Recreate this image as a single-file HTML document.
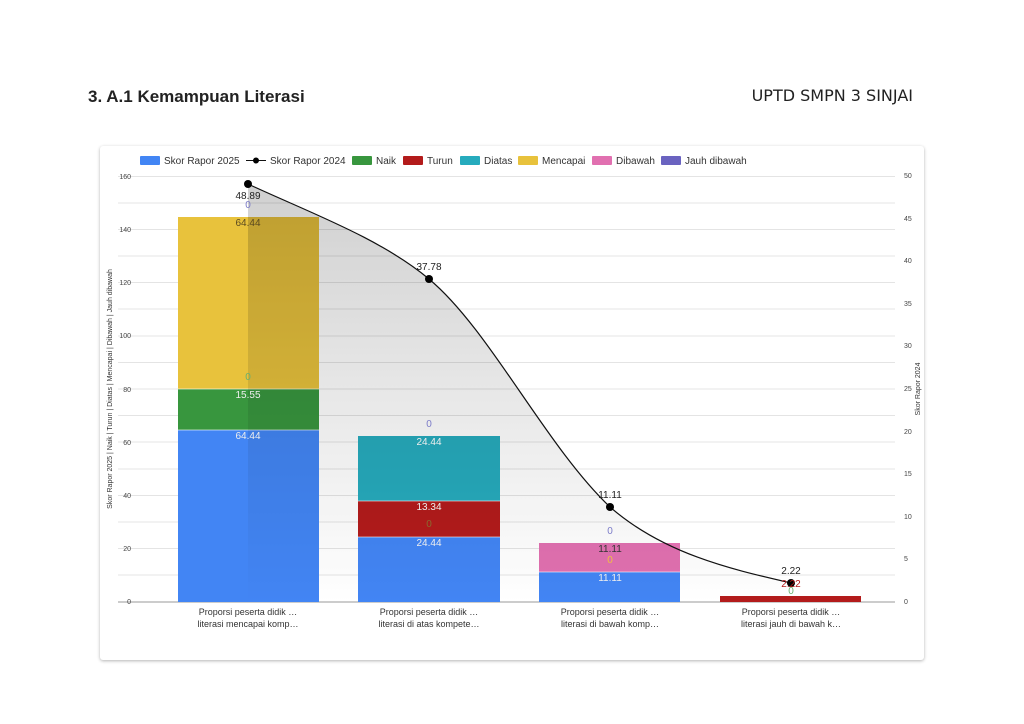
<!DOCTYPE html>
<html><head><meta charset="utf-8"><style>
body{margin:0;width:1024px;height:724px;background:#fff;font-family:"Liberation Sans",sans-serif;overflow:hidden;position:relative}
.t1{position:absolute;left:88px;top:87px;font-size:17px;font-weight:bold;color:#222;font-family:"Liberation Sans",sans-serif}
.t2{position:absolute;right:111px;top:86px;font-size:16px;color:#222;font-family:"DejaVu Sans",sans-serif}
.card{position:absolute;left:100px;top:146px;width:824px;height:514px;background:#fff;border-radius:3px;box-shadow:0 1px 3px rgba(0,0,0,.3)}
</style></head><body>
<div class="t1">3. A.1 Kemampuan Literasi</div>
<div class="t2">UPTD SMPN 3 SINJAI</div>
<div class="card"></div>
<svg width="1024" height="724" style="position:absolute;left:0;top:0" font-family="Liberation Sans, sans-serif">
<defs><linearGradient id="g" x1="0" y1="0" x2="0" y2="1"><stop offset="0" stop-color="#c8c8c8"/><stop offset="1" stop-color="#fff"/></linearGradient></defs>
<g stroke="#e4e4e4" stroke-width="1">
<line x1="118" x2="895" y1="176.5" y2="176.5"/><line x1="118" x2="895" y1="203" y2="203"/><line x1="118" x2="895" y1="229.5" y2="229.5"/><line x1="118" x2="895" y1="256" y2="256"/><line x1="118" x2="895" y1="282.5" y2="282.5"/><line x1="118" x2="895" y1="309" y2="309"/><line x1="118" x2="895" y1="336" y2="336"/><line x1="118" x2="895" y1="362.5" y2="362.5"/><line x1="118" x2="895" y1="389" y2="389"/><line x1="118" x2="895" y1="415.5" y2="415.5"/><line x1="118" x2="895" y1="442" y2="442"/><line x1="118" x2="895" y1="469" y2="469"/><line x1="118" x2="895" y1="495.5" y2="495.5"/><line x1="118" x2="895" y1="522" y2="522"/><line x1="118" x2="895" y1="548.5" y2="548.5"/><line x1="118" x2="895" y1="575" y2="575"/>
</g>
<line x1="118" x2="895" y1="602" y2="602" stroke="#999"/>
<g font-size="7" fill="#444" text-anchor="end">
<text x="131" y="179">160</text><text x="131" y="232">140</text><text x="131" y="285">120</text><text x="131" y="338">100</text><text x="131" y="392">80</text><text x="131" y="445">60</text><text x="131" y="498">40</text><text x="131" y="551">20</text><text x="131" y="604">0</text>
</g>
<g font-size="7" fill="#444">
<text x="904" y="178">50</text><text x="904" y="221">45</text><text x="904" y="263">40</text><text x="904" y="306">35</text><text x="904" y="348">30</text><text x="904" y="391">25</text><text x="904" y="434">20</text><text x="904" y="476">15</text><text x="904" y="519">10</text><text x="904" y="561">5</text><text x="904" y="604">0</text>
</g>
<text transform="translate(112,389) rotate(-90)" font-size="7" fill="#333" text-anchor="middle">Skor Rapor 2025 | Naik | Turun | Diatas | Mencapai | Dibawah | Jauh dibawah</text>
<text transform="translate(920,389) rotate(-90)" font-size="7" fill="#333" text-anchor="middle">Skor Rapor 2024</text>
<rect x="178" y="430" width="141" height="172" fill="#4285f4"/>
<rect x="178" y="389" width="141" height="41" fill="#38963e"/>
<rect x="178" y="217" width="141" height="172" fill="#e8c23c"/>
<rect x="358" y="537" width="142" height="65" fill="#4285f4"/>
<rect x="358" y="501" width="142" height="36" fill="#b31b1b"/>
<rect x="358" y="436" width="142" height="65" fill="#26abbd"/>
<rect x="539" y="572" width="141" height="30" fill="#4285f4"/>
<rect x="539" y="543" width="141" height="29" fill="#e170b0"/>
<rect x="720" y="596" width="141" height="6" fill="#b31b1b"/>
<g stroke="#fff" stroke-opacity=".6"><line x1="178" x2="319" y1="430" y2="430"/><line x1="178" x2="319" y1="389" y2="389"/><line x1="358" x2="500" y1="537" y2="537"/><line x1="358" x2="500" y1="501" y2="501"/><line x1="539" x2="680" y1="572" y2="572"/></g>
<path d="M248,184 C308,212 380,238 429,279 C490,330 545,445 610,507 C665,555 735,570 791,583 L791,602 L248,602 Z" fill="url(#g)" style="mix-blend-mode:multiply" opacity=".85"/>
<path d="M248,184 C308,212 380,238 429,279 C490,330 545,445 610,507 C665,555 735,570 791,583" fill="none" stroke="#111" stroke-width="1.2"/>
<g fill="#000"><circle cx="248" cy="184" r="4"/><circle cx="429" cy="279" r="4"/><circle cx="610" cy="507" r="4"/><circle cx="791" cy="583" r="4"/></g>
<g font-size="10" text-anchor="middle">
<text x="248" y="199" fill="#222">48.89</text><text x="248" y="208" fill="#7b7bc8">0</text><text x="248" y="226" fill="#5a4a20">64.44</text>
<text x="248" y="380" fill="#6ab070">0</text><text x="248" y="398" fill="#eee">15.55</text><text x="248" y="439" fill="#eee">64.44</text>
<text x="429" y="270" fill="#222">37.78</text><text x="429" y="427" fill="#7b7bc8">0</text><text x="429" y="445" fill="#eee">24.44</text><text x="429" y="510" fill="#eee">13.34</text><text x="429" y="527" fill="#8a6a30">0</text><text x="429" y="546" fill="#eee">24.44</text>
<text x="610" y="498" fill="#222">11.11</text><text x="610" y="534" fill="#7b7bc8">0</text><text x="610" y="552" fill="#333">11.11</text><text x="610" y="563" fill="#f0c040">0</text><text x="610" y="581" fill="#eee">11.11</text>
<text x="791" y="574" fill="#222">2.22</text><text x="791" y="587" fill="#b31b1b">2.22</text><text x="791" y="594" fill="#6ab070">0</text>
</g>
<g font-size="9" fill="#333" text-anchor="middle">
<text x="248" y="615">Proporsi peserta didik …</text><text x="248" y="627">literasi mencapai komp…</text>
<text x="429" y="615">Proporsi peserta didik …</text><text x="429" y="627">literasi di atas kompete…</text>
<text x="610" y="615">Proporsi peserta didik …</text><text x="610" y="627">literasi di bawah komp…</text>
<text x="791" y="615">Proporsi peserta didik …</text><text x="791" y="627">literasi jauh di bawah k…</text>
</g>
<g font-size="10" fill="#333">
<rect x="140" y="156" width="20" height="9" rx="1" fill="#4285f4"/><text x="164" y="164">Skor Rapor 2025</text>
<line x1="246" x2="266" y1="160.5" y2="160.5" stroke="#111"/><circle cx="256" cy="160.5" r="3" fill="#000"/><text x="270" y="164">Skor Rapor 2024</text>
<rect x="352" y="156" width="20" height="9" rx="1" fill="#38963e"/><text x="376" y="164">Naik</text>
<rect x="403" y="156" width="20" height="9" rx="1" fill="#b31b1b"/><text x="427" y="164">Turun</text>
<rect x="460" y="156" width="20" height="9" rx="1" fill="#26abbd"/><text x="484" y="164">Diatas</text>
<rect x="518" y="156" width="20" height="9" rx="1" fill="#e8c23c"/><text x="542" y="164">Mencapai</text>
<rect x="592" y="156" width="20" height="9" rx="1" fill="#e170b0"/><text x="616" y="164">Dibawah</text>
<rect x="661" y="156" width="20" height="9" rx="1" fill="#6a63c0"/><text x="685" y="164">Jauh dibawah</text>
</g>
</svg>
</body></html>
